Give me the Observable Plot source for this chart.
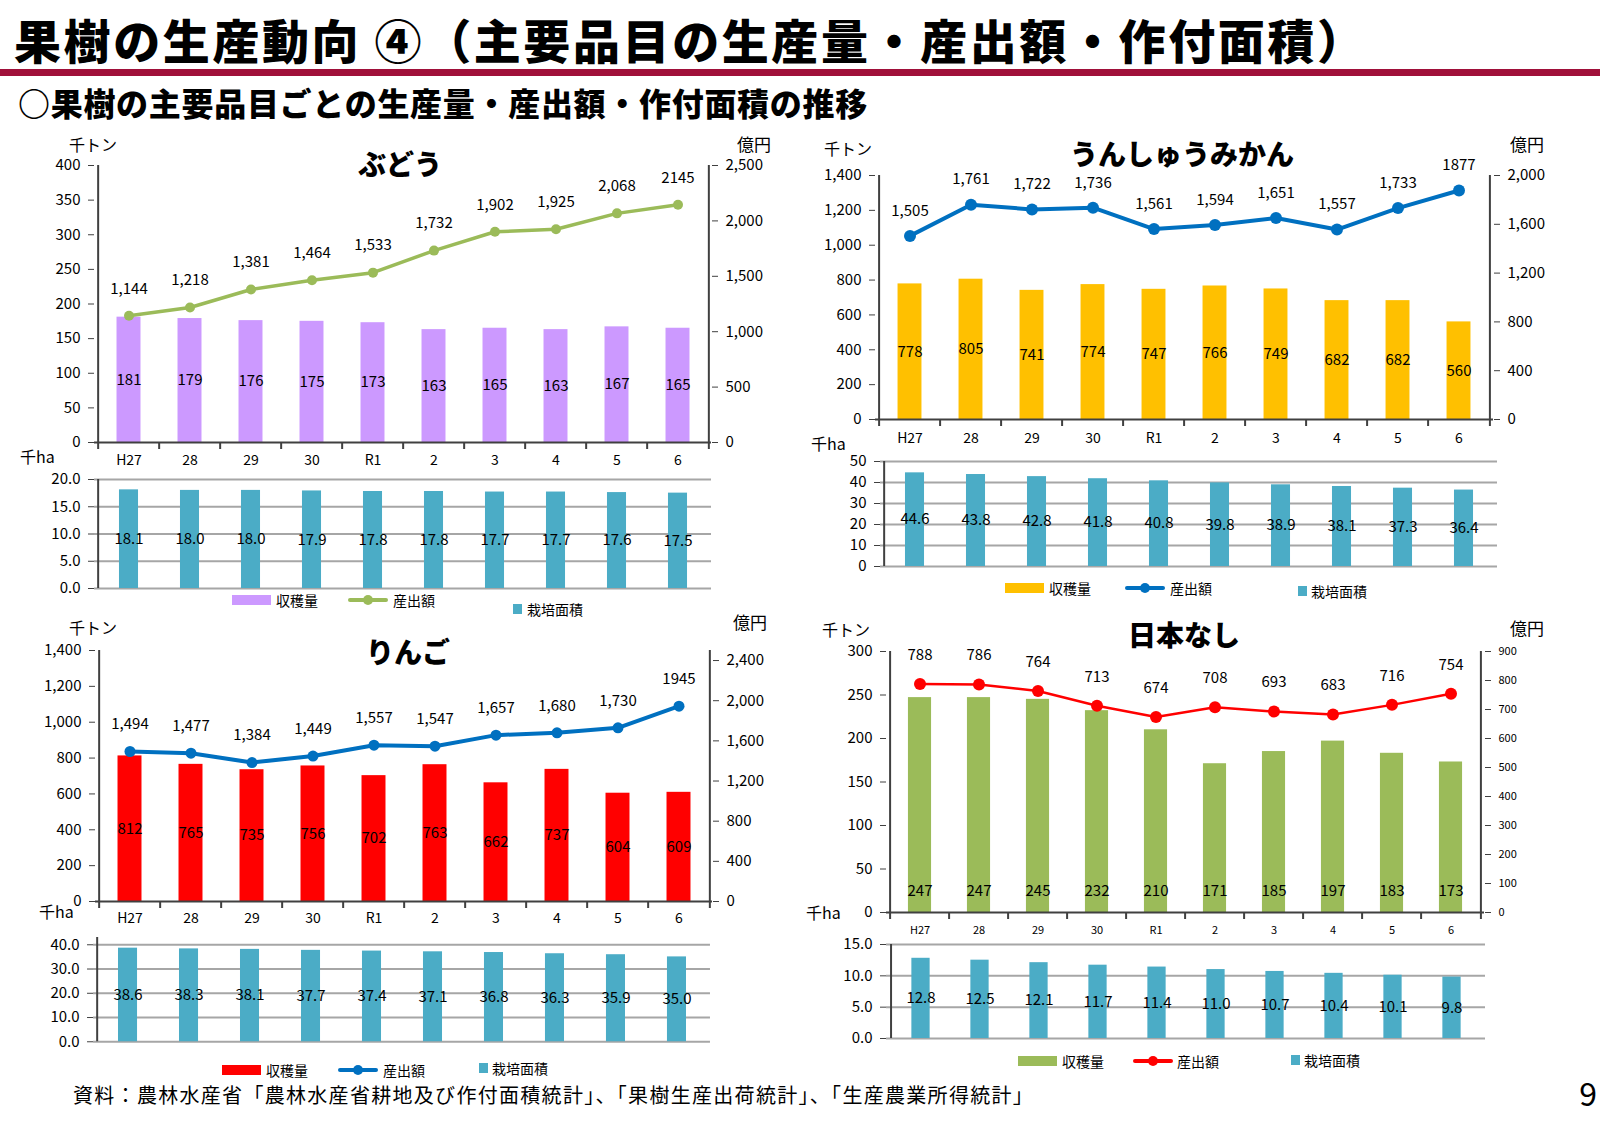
<!DOCTYPE html>
<html><head><meta charset="utf-8">
<script src="https://cdn.jsdelivr.net/npm/d3@7"></script>
<script src="https://cdn.jsdelivr.net/npm/@observablehq/plot@0.6"></script>
<style>
body{margin:0;background:#fff;}
#page{position:relative;width:1600px;height:1132px;overflow:hidden;font-family:"Noto Sans CJK JP",sans-serif;color:#000;background:#fff;}
.abs{position:absolute;white-space:nowrap;line-height:1;}
</style></head>
<body><div id="page"></div>
<script>
// ---------- data ----------
const years = ["H27","28","29","30","R1","2","3","4","5","6"];
const budoHarvest = [181,179,176,175,173,163,165,163,167,165];
const budoOutput  = [1144,1218,1381,1464,1533,1732,1902,1925,2068,2145];
const budoArea    = [18.1,18.0,18.0,17.9,17.8,17.8,17.7,17.7,17.6,17.5];
const mikanHarvest = [778,805,741,774,747,766,749,682,682,560];
const mikanOutput  = [1505,1761,1722,1736,1561,1594,1651,1557,1733,1877];
const mikanArea    = [44.6,43.8,42.8,41.8,40.8,39.8,38.9,38.1,37.3,36.4];
const ringoHarvest = [812,765,735,756,702,763,662,737,604,609];
const ringoOutput  = [1494,1477,1384,1449,1557,1547,1657,1680,1730,1945];
const ringoArea    = [38.6,38.3,38.1,37.7,37.4,37.1,36.8,36.3,35.9,35.0];
const nashiHarvest = [247,247,245,232,210,171,185,197,183,173];
const nashiOutput  = [788,786,764,713,674,708,693,683,716,754];
const nashiArea    = [12.8,12.5,12.1,11.7,11.4,11.0,10.7,10.4,10.1,9.8];
const seriesNames = ["収穫量","産出額","栽培面積"];

const FONT = "'Noto Sans CJK JP', sans-serif";
const AXIS = "#404040";
const TEAL = "#4BACC6";
const page = document.getElementById("page");

function txt(s, x, y, css) {
  const d = document.createElement("div");
  d.className = "abs"; d.textContent = s;
  d.style.left = x + "px"; d.style.top = y + "px";
  Object.assign(d.style, css || {});
  page.appendChild(d); return d;
}
function place(el, x, y) {
  const d = document.createElement("div");
  d.style.position = "absolute"; d.style.left = x + "px"; d.style.top = y + "px";
  d.appendChild(el); page.appendChild(d);
}
const comma = d3.format(",");

function mainChart(p) {
  const {L, R, T, B} = p;
  const padL = 90, padR = 90, padT = 45, padB = 35;
  const W = R - L + padL + padR, H = B - T + padT + padB;
  const bw = (R - L) / years.length;
  const inset = bw * 0.3;
  const data = years.map((year, i) => ({year, i, harvest: p.harvest[i], output: p.output[i]}));
  const style = {background: "transparent", overflow: "visible", fontFamily: FONT, fontSize: "15px", color: "#000"};
  const tickLen = p.yMax * 7 / (B - T);
  const last = years[years.length - 1];
  const bars = Plot.plot({
    width: W, height: H, marginLeft: padL, marginRight: padR, marginTop: padT, marginBottom: padB,
    x: {type: "band", domain: years, padding: 0}, y: {domain: [0, p.yMax]}, style,
    marks: [
      Plot.barY(data, {x: "year", y: "harvest", fill: p.barColor, insetLeft: inset, insetRight: inset}),
      Plot.text(data, {x: "year", y: p.labelBottom ? (() => 0) : (d => d.harvest / 2), dy: p.labelBottom ? -21 : 0,
        text: d => String(d.harvest), fontSize: 15}),
      Plot.axisY({ticks: p.yTicks, tickFormat: comma, tickSize: 6, tickPadding: 8, label: null, stroke: AXIS}),
      Plot.axisX({tickSize: 0, tickPadding: p.xPad, fontSize: p.xFont, label: null}),
      Plot.ruleX([years[0]], {x: d => d, dx: -bw / 2, stroke: AXIS, strokeWidth: 2}),
      Plot.ruleX([last], {x: d => d, dx: bw / 2, stroke: AXIS, strokeWidth: 2}),
      Plot.ruleX(years, {x: d => d, dx: -bw / 2, y1: () => 0, y2: () => -tickLen, stroke: AXIS, strokeWidth: 2}),
      Plot.ruleX([last], {x: d => d, dx: bw / 2, y1: () => 0, y2: () => -tickLen, stroke: AXIS, strokeWidth: 2}),
      Plot.ruleY([0], {stroke: AXIS, strokeWidth: 2})
    ]
  });
  const line = Plot.plot({
    width: W, height: H, marginLeft: padL, marginRight: padR, marginTop: padT, marginBottom: padB,
    x: {type: "band", domain: years, padding: 0, axis: null}, y: {domain: [0, p.y2Max]},
    style: {...style, fontSize: p.y2Font + "px"},
    marks: [
      Plot.axisY({anchor: "right", ticks: p.y2Ticks, tickFormat: comma, tickSize: 6, tickPadding: 8, label: null, stroke: AXIS}),
      Plot.line(data, {x: "year", y: "output", stroke: p.lineColor, strokeWidth: p.lw}),
      Plot.dot(data, {x: "year", y: "output", fill: p.lineColor, r: p.r}),
      Plot.text(data, {x: "year", y: "output", dy: -p.ldy, fontSize: 15,
        text: d => d.i === years.length - 1 ? String(d.output) : comma(d.output)})
    ]
  });
  place(bars, L - padL, T - padT);
  place(line, L - padL, T - padT);
}

function subChart(p) {
  const {L, R, T, B} = p;
  const padL = 90, padR = 20, padT = 10, padB = 10;
  const W = R - L + padL + padR, H = B - T + padT + padB;
  const bw = (R - L) / years.length;
  const inset = bw * 0.34;
  const data = years.map((year, i) => ({year, area: p.area[i]}));
  const fmt = d3.format(p.fmt);
  const svg = Plot.plot({
    width: W, height: H, marginLeft: padL, marginRight: padR, marginTop: padT, marginBottom: padB,
    x: {type: "band", domain: years, padding: 0, axis: null}, y: {domain: [0, p.yMax]},
    style: {background: "transparent", overflow: "visible", fontFamily: FONT, fontSize: "15px", color: "#000"},
    marks: [
      Plot.ruleY(p.ticks, {stroke: "#A6A6A6", strokeWidth: 2}),
      Plot.barY(data, {x: "year", y: "area", fill: TEAL, insetLeft: inset, insetRight: inset}),
      Plot.text(data, {x: "year", y: d => d.area / 2, text: d => d.area.toFixed(1), fontSize: 15}),
      Plot.axisY({ticks: p.ticks, tickFormat: fmt, tickSize: 6, tickPadding: 8, label: null, stroke: AXIS}),
      Plot.ruleX([years[0]], {x: d => d, dx: -bw / 2, stroke: AXIS, strokeWidth: 2})
    ]
  });
  place(svg, L - padL, T - padT);
}

function legend(items) {
  for (const it of items) {
    if (it.type === "rect") {
      txt("", it.x, it.y - 5, {width: "39px", height: "10px", background: it.color});
    } else if (it.type === "line") {
      txt("", it.x, it.y - 2, {width: "40px", height: "4px", background: it.color, borderRadius: "2px"});
      txt("", it.x + 15, it.y - 5, {width: "10px", height: "10px", background: it.color, borderRadius: "50%"});
    } else {
      txt("", it.x, it.y - 5, {width: "9px", height: "10px", background: it.color});
    }
    txt(it.label, it.tx, it.y, {fontSize: "14px", transform: "translateY(-50%)"});
  }
}
function unit(s, x, y, size) { txt(s, x, y, {fontSize: (size || 16) + "px", transform: "translateY(-50%)"}); }
function ptitle(s, x, y) { txt(s, x, y, {fontSize: "28px", fontWeight: "900", transform: "translate(-50%,-50%)"}); }

// ---------- header ----------
txt("果樹の生産動向 ④（主要品目の生産量・産出額・作付面積）", 14, 15, {fontSize: "47px", fontWeight: "900", letterSpacing: "2.6px"});
txt("", 0, 69, {width: "1600px", height: "7px", background: "#A0103A"});
txt("○果樹の主要品目ごとの生産量・産出額・作付面積の推移", 18, 86, {fontSize: "32px", fontWeight: "900", letterSpacing: "0.7px"});

// ---------- ぶどう ----------
mainChart({L: 94, R: 711, T: 165, B: 442, harvest: budoHarvest, output: budoOutput,
  yMax: 400, yTicks: d3.range(0, 401, 50), y2Max: 2500, y2Ticks: d3.range(0, 2501, 500), y2Font: 15,
  barColor: "#CC99FF", lineColor: "#9BBB59", lw: 3.5, r: 5, ldy: 27, xPad: 13, xFont: 14});
subChart({L: 94, R: 711, T: 479, B: 588, area: budoArea, yMax: 20, ticks: [0, 5, 10, 15, 20], fmt: ".1f"});
ptitle("ぶどう", 400, 163);
unit("千トン", 69, 144); unit("億円", 737, 143, 17); unit("千ha", 20, 456);
legend([
  {type: "rect", x: 232, y: 600, color: "#CC99FF", label: seriesNames[0], tx: 276},
  {type: "line", x: 348, y: 600, color: "#9BBB59", label: seriesNames[1], tx: 393},
  {type: "sq", x: 513, y: 609, color: TEAL, label: seriesNames[2], tx: 527}
]);

// ---------- うんしゅうみかん ----------
mainChart({L: 875, R: 1493, T: 175, B: 419, harvest: mikanHarvest, output: mikanOutput,
  yMax: 1400, yTicks: d3.range(0, 1401, 200), y2Max: 2000, y2Ticks: d3.range(0, 2001, 400), y2Font: 15,
  barColor: "#FFC000", lineColor: "#0070C0", lw: 4, r: 6, ldy: 25, xPad: 14, xFont: 14});
subChart({L: 880, R: 1497, T: 461, B: 566, area: mikanArea, yMax: 50, ticks: [0, 10, 20, 30, 40, 50], fmt: "d"});
ptitle("うんしゅうみかん", 1182, 153);
unit("千トン", 824, 148); unit("億円", 1510, 143, 17); unit("千ha", 811, 443);
legend([
  {type: "rect", x: 1005, y: 588, color: "#FFC000", label: seriesNames[0], tx: 1049},
  {type: "line", x: 1125, y: 588, color: "#0070C0", label: seriesNames[1], tx: 1170},
  {type: "sq", x: 1298, y: 591, color: TEAL, label: seriesNames[2], tx: 1311}
]);

// ---------- りんご ----------
mainChart({L: 95, R: 712, T: 650, B: 901, harvest: ringoHarvest, output: ringoOutput,
  yMax: 1400, yTicks: d3.range(0, 1401, 200), y2Max: 2500, y2Ticks: d3.range(0, 2401, 400), y2Font: 15,
  barColor: "#FF0000", lineColor: "#0070C0", lw: 4, r: 5.5, ldy: 27, xPad: 12, xFont: 14});
subChart({L: 93, R: 710, T: 1041 - 43 * 97 / 40, B: 1041, area: ringoArea, yMax: 43, ticks: [0, 10, 20, 30, 40], fmt: ".1f"});
ptitle("りんご", 408, 651);
unit("千トン", 69, 627); unit("億円", 733, 621, 17); unit("千ha", 39, 911);
legend([
  {type: "rect", x: 222, y: 1070, color: "#FF0000", label: seriesNames[0], tx: 266},
  {type: "line", x: 338, y: 1070, color: "#0070C0", label: seriesNames[1], tx: 383},
  {type: "sq", x: 479, y: 1068, color: TEAL, label: seriesNames[2], tx: 492}
]);

// ---------- 日本なし ----------
mainChart({L: 886, R: 1484, T: 651, B: 912, harvest: nashiHarvest, output: nashiOutput,
  yMax: 300, yTicks: d3.range(0, 301, 50), y2Max: 900, y2Ticks: d3.range(0, 901, 100), y2Font: 11,
  barColor: "#9BBB59", lineColor: "#FF0000", lw: 2.5, r: 6, ldy: 29, xPad: 14, xFont: 11, labelBottom: true});
subChart({L: 886, R: 1485, T: 944, B: 1038, area: nashiArea, yMax: 15, ticks: [0, 5, 10, 15], fmt: ".1f"});
ptitle("日本なし", 1184, 634);
unit("千トン", 822, 629); unit("億円", 1510, 627, 17); unit("千ha", 806, 912);
legend([
  {type: "rect", x: 1018, y: 1061, color: "#9BBB59", label: seriesNames[0], tx: 1062},
  {type: "line", x: 1133, y: 1061, color: "#FF0000", label: seriesNames[1], tx: 1177},
  {type: "sq", x: 1291, y: 1060, color: TEAL, label: seriesNames[2], tx: 1304}
]);

// ---------- footer ----------
txt("資料：農林水産省「農林水産省耕地及び作付面積統計」、「果樹生産出荷統計」、「生産農業所得統計」", 73, 1095, {fontSize: "20px", letterSpacing: "1.3px", transform: "translateY(-50%)"});
txt("9", 1597, 1092, {fontSize: "32px", transform: "translate(-100%,-50%)"});
</script>
</body></html>
